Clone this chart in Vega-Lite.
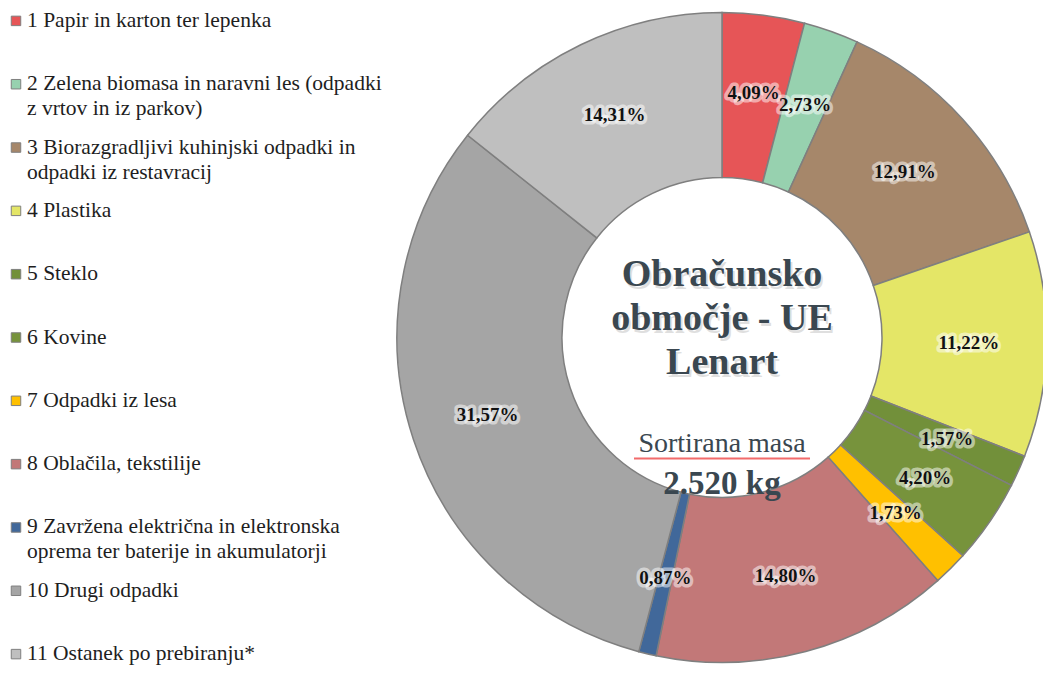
{
  "$schema": "https://vega.github.io/schema/vega-lite/v6.json",
  "padding": 0,
  "spacing": 0,
  "background": "white",
  "config": {
    "view": {"stroke": null},
    "font": "Liberation Serif",
    "text": {"font": "Liberation Serif"},
    "locale": {"number": {"decimal": ",", "thousands": ".", "grouping": [3], "currency": ["", " €"]}}
  },
  "datasets": {
    "odpadki": [
      {"id": 1, "kategorija": "1 Papir in karton ter lepenka", "vrstica1": "1 Papir in karton ter lepenka", "vrstica2": "", "delez": 0.0409},
      {"id": 2, "kategorija": "2 Zelena biomasa in naravni les (odpadki z vrtov in iz parkov)", "vrstica1": "2 Zelena biomasa in naravni les (odpadki", "vrstica2": "z vrtov in iz parkov)", "delez": 0.0273},
      {"id": 3, "kategorija": "3 Biorazgradljivi kuhinjski odpadki in odpadki iz restavracij", "vrstica1": "3 Biorazgradljivi kuhinjski odpadki in", "vrstica2": "odpadki iz restavracij", "delez": 0.1291},
      {"id": 4, "kategorija": "4 Plastika", "vrstica1": "4 Plastika", "vrstica2": "", "delez": 0.1122},
      {"id": 5, "kategorija": "5 Steklo", "vrstica1": "5 Steklo", "vrstica2": "", "delez": 0.0157},
      {"id": 6, "kategorija": "6 Kovine", "vrstica1": "6 Kovine", "vrstica2": "", "delez": 0.0420},
      {"id": 7, "kategorija": "7 Odpadki iz lesa", "vrstica1": "7 Odpadki iz lesa", "vrstica2": "", "delez": 0.0173},
      {"id": 8, "kategorija": "8 Oblačila, tekstilije", "vrstica1": "8 Oblačila, tekstilije", "vrstica2": "", "delez": 0.1480},
      {"id": 9, "kategorija": "9 Zavržena električna in elektronska oprema ter baterije in akumulatorji", "vrstica1": "9 Zavržena električna in elektronska", "vrstica2": "oprema ter baterije in akumulatorji", "delez": 0.0087},
      {"id": 10, "kategorija": "10 Drugi odpadki", "vrstica1": "10 Drugi odpadki", "vrstica2": "", "delez": 0.3157},
      {"id": 11, "kategorija": "11 Ostanek po prebiranju*", "vrstica1": "11 Ostanek po prebiranju*", "vrstica2": "", "delez": 0.1431}
    ]
  },
  "hconcat": [
    {
      "width": 394,
      "height": 675,
      "data": {"name": "odpadki"},
      "encoding": {
        "y": {"field": "kategorija", "type": "nominal", "sort": {"field": "id", "op": "min"}, "scale": {"type": "point", "padding": 0.33}, "axis": null}
      },
      "layer": [
        {
          "mark": {"type": "square", "size": 90, "filled": true, "stroke": "#7F7F7F", "strokeWidth": 1, "opacity": 1},
          "encoding": {
            "x": {"value": 16},
            "color": {
              "field": "kategorija", "type": "nominal", "legend": null,
              "scale": {
                "domain": ["1 Papir in karton ter lepenka", "2 Zelena biomasa in naravni les (odpadki z vrtov in iz parkov)", "3 Biorazgradljivi kuhinjski odpadki in odpadki iz restavracij", "4 Plastika", "5 Steklo", "6 Kovine", "7 Odpadki iz lesa", "8 Oblačila, tekstilije", "9 Zavržena električna in elektronska oprema ter baterije in akumulatorji", "10 Drugi odpadki", "11 Ostanek po prebiranju*"],
                "range": ["#E65557", "#97D1AF", "#A6876A", "#E4E667", "#72903A", "#77933C", "#FFC000", "#C27878", "#41689A", "#A5A5A5", "#BFBFBF"]
              }
            }
          }
        },
        {
          "mark": {"type": "text", "font": "Liberation Serif", "align": "left", "baseline": "middle", "fontSize": 21.5, "fill": "#1E1E1E"},
          "encoding": {"x": {"value": 27}, "text": {"field": "vrstica1"}}
        },
        {
          "mark": {"type": "text", "font": "Liberation Serif", "align": "left", "baseline": "middle", "fontSize": 21.5, "fill": "#1E1E1E", "dy": 25},
          "encoding": {"x": {"value": 27}, "text": {"field": "vrstica2"}}
        }
      ]
    },
    {
      "width": 646,
      "height": 675,
      "data": {"name": "odpadki"},
      "layer": [
        {
          "mark": {"type": "arc", "outerRadius": 325, "innerRadius": 160, "stroke": "#7F7F7F", "strokeWidth": 1.5},
          "encoding": {
            "theta": {"field": "delez", "type": "quantitative", "stack": true},
            "order": {"field": "id", "type": "quantitative", "sort": "ascending"},
            "color": {
              "field": "kategorija", "type": "nominal", "legend": null,
              "scale": {
                "domain": ["1 Papir in karton ter lepenka", "2 Zelena biomasa in naravni les (odpadki z vrtov in iz parkov)", "3 Biorazgradljivi kuhinjski odpadki in odpadki iz restavracij", "4 Plastika", "5 Steklo", "6 Kovine", "7 Odpadki iz lesa", "8 Oblačila, tekstilije", "9 Zavržena električna in elektronska oprema ter baterije in akumulatorji", "10 Drugi odpadki", "11 Ostanek po prebiranju*"],
                "range": ["#E65557", "#97D1AF", "#A6876A", "#E4E667", "#72903A", "#77933C", "#FFC000", "#C27878", "#41689A", "#A5A5A5", "#BFBFBF"]
              }
            }
          }
        },
        {
          "mark": {"type": "text", "font": "Liberation Serif", "radius": 247, "fontSize": 19, "fontWeight": "bold", "fill": "white", "fillOpacity": 0.6, "stroke": "white", "strokeWidth": 7, "strokeOpacity": 0.5, "strokeJoin": "round"},
          "encoding": {
            "theta": {"field": "delez", "type": "quantitative", "stack": true},
            "order": {"field": "id", "type": "quantitative", "sort": "ascending"},
            "detail": {"field": "kategorija", "type": "nominal"},
            "text": {"field": "delez", "type": "quantitative", "format": ".2%"}
          }
        },
        {
          "mark": {"type": "text", "font": "Liberation Serif", "radius": 247, "fontSize": 19, "fontWeight": "bold", "fill": "#111111"},
          "encoding": {
            "theta": {"field": "delez", "type": "quantitative", "stack": true},
            "order": {"field": "id", "type": "quantitative", "sort": "ascending"},
            "detail": {"field": "kategorija", "type": "nominal"},
            "text": {"field": "delez", "type": "quantitative", "format": ".2%"}
          }
        },
        {
          "data": {"values": [{"t": "Obračunsko\nobmočje - UE\nLenart"}]},
          "mark": {"type": "text", "font": "Liberation Serif", "lineBreak": "\n", "lineHeight": 44, "fontSize": 38, "fontWeight": "bold", "fill": "#000000", "opacity": 0.12, "dx": 2, "dy": -60},
          "encoding": {"text": {"field": "t"}}
        },
        {
          "data": {"values": [{"t": "Obračunsko\nobmočje - UE\nLenart"}]},
          "mark": {"type": "text", "font": "Liberation Serif", "lineBreak": "\n", "lineHeight": 44, "fontSize": 38, "fontWeight": "bold", "fill": "#3A4750", "dy": -62.5},
          "encoding": {"text": {"field": "t"}}
        },
        {
          "data": {"values": [{"t": "Sortirana masa"}]},
          "mark": {"type": "text", "font": "Liberation Serif", "fontSize": 28, "fill": "#3A4750", "dy": 106},
          "encoding": {"text": {"field": "t"}}
        },
        {
          "data": {"values": [{"od": -88, "do": 88, "visina": -121}]},
          "mark": {"type": "rule", "stroke": "#F26B6B", "strokeWidth": 2},
          "encoding": {
            "x": {"field": "od", "type": "quantitative", "scale": {"domain": [-323, 323], "nice": false, "zero": false}, "axis": null},
            "x2": {"field": "do"},
            "y": {"field": "visina", "type": "quantitative", "scale": {"domain": [-337.5, 337.5], "nice": false, "zero": false}, "axis": null}
          }
        },
        {
          "data": {"values": [{"t": "2.520 kg"}]},
          "mark": {"type": "text", "font": "Liberation Serif", "fontSize": 33, "fontWeight": "bold", "fill": "#3A4750", "dy": 146},
          "encoding": {"text": {"field": "t"}}
        }
      ]
    }
  ]
}
